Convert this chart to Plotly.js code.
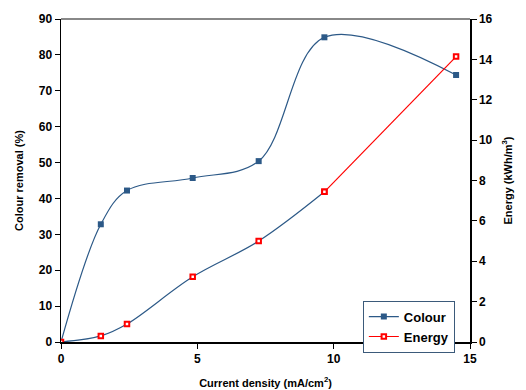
<!DOCTYPE html>
<html><head><meta charset="utf-8">
<script src="https://cdn.plot.ly/plotly-3.0.1.min.js"></script>
<style>body{margin:0;background:#fff}#c{width:526px;height:390px}</style>
</head><body><div id="c"></div>
<script>
const currentDensity = [0, 1.46, 2.42, 4.83, 7.25, 9.66, 14.49];
const colourRemoval = [0, 32.8, 42.2, 45.7, 50.4, 84.9, 74.4];
const energy = [0, 0.30, 0.89, 3.23, 5.0, 7.44, 14.14];

const blue = '#2C5987';
const red = '#FF0000';
const fnt = 'Arial, "Liberation Sans", sans-serif';
const n = currentDensity.length;

const eMarker = {symbol: 'square', size: 4.5, color: '#fff', line: {color: red, width: 2}};

const traces = [
  {x: currentDensity, y: colourRemoval, name: 'Colour', mode: 'lines+markers',
   line: {color: blue, width: 1.2, shape: 'spline', smoothing: 1},
   marker: {symbol: 'square', size: 6, color: blue}, legendrank: 1},
  {x: currentDensity.slice(0, n - 1), y: energy.slice(0, n - 1), yaxis: 'y2', mode: 'lines',
   line: {color: blue, width: 1.2, shape: 'spline', smoothing: 1}, showlegend: false, hoverinfo: 'skip'},
  {x: currentDensity.slice(0, n - 1), y: energy.slice(0, n - 1), yaxis: 'y2', mode: 'markers',
   marker: eMarker, showlegend: false},
  {x: currentDensity.slice(n - 2), y: energy.slice(n - 2), yaxis: 'y2', name: 'Energy', mode: 'lines+markers',
   line: {color: red, width: 1.2}, marker: eMarker, legendrank: 2}
];

const layout = {
  width: 526, height: 390,
  margin: {l: 61, r: 56, t: 19, b: 48},
  paper_bgcolor: '#fff', plot_bgcolor: '#fff',
  font: {family: fnt, size: 12, color: '#000'},
  showlegend: true,
  legend: {x: 0.738, y: 0.128, xanchor: 'left', yanchor: 'top', bgcolor: '#fff',
    bordercolor: '#3B5A7A', borderwidth: 1, font: {family: fnt, size: 13, weight: 'bold'},
    tracegroupgap: 0, itemwidth: 30, traceorder: 'normal'},
  xaxis: {range: [0, 15], tickvals: [0, 5, 10, 15], showgrid: false, zeroline: false,
    showline: true, linecolor: '#000', linewidth: 1.5, ticks: 'outside', ticklen: 5, tickcolor: '#000',
    tickfont: {family: fnt, size: 12, weight: 'bold'},
    title: {text: 'Current density (mA/cm<sup>2</sup>)', font: {family: fnt, size: 11, weight: 'bold'}, standoff: 14}},
  yaxis: {range: [0, 90], dtick: 10, showgrid: false, zeroline: false,
    showline: true, linecolor: '#000', linewidth: 1.5, ticks: 'outside', ticklen: 5, tickcolor: '#000',
    tickfont: {family: fnt, size: 12, weight: 'bold'},
    title: {text: 'Colour removal (%)', font: {family: fnt, size: 11, weight: 'bold'}, standoff: 13}},
  yaxis2: {range: [0, 16], dtick: 2, overlaying: 'y', side: 'right', showgrid: false, zeroline: false,
    showline: true, linecolor: '#000', linewidth: 1.5, ticks: 'outside', ticklen: 5, tickcolor: '#000',
    tickfont: {family: fnt, size: 12, weight: 'bold'},
    title: {text: 'Energy (kWh/m<sup>3</sup>)', font: {family: fnt, size: 11, weight: 'bold'}, standoff: 12}},
  shapes: [{type: 'line', xref: 'paper', yref: 'paper', x0: 0, x1: 1, y0: 1, y1: 1,
    line: {color: '#606060', width: 1.5}}]
};

Plotly.newPlot('c', traces, layout, {displayModeBar: false, staticPlot: true});
</script></body></html>
